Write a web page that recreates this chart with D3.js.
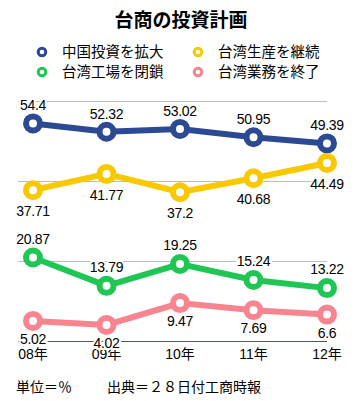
<!DOCTYPE html>
<html>
<head>
<meta charset="utf-8">
<script src="https://cdn.jsdelivr.net/npm/d3@7"></script>
<style>
  body { margin: 0; background: #fff; }
  text { font-family: "Liberation Sans", "Noto Sans CJK JP", sans-serif; }
  .jp { font-family: "Noto Sans CJK JP", sans-serif; }
</style>
</head>
<body>
<svg id="chart" width="363" height="401"></svg>
<script>
const years = ['08年', '09年', '10年', '11年', '12年'];
const seriesNames = ['中国投資を拡大', '台湾生産を継続', '台湾工場を閉鎖', '台湾業務を終了'];
const expandChina = [54.4, 52.32, 53.02, 50.95, 49.39];
const keepTaiwan = [37.71, 41.77, 37.2, 40.68, 44.49];
const closeFactory = [20.87, 13.79, 19.25, 15.24, 13.22];
const endBusiness = [5.02, 4.02, 9.47, 7.69, 6.6];
const gridTicks = [20, 40, 60];

const colors = ['#2b4a93', '#f8c800', '#1fc654', '#f7848f'];
// label above (-) or below (+) the point
const labelOffset = [-13, 26, -14, 23];

const svg = d3.select('#chart');

const x = d3.scalePoint().domain(years).range([33, 327]);
const y = d3.scaleLinear().domain([0, 60]).range([341, 101]);

// title
svg.append('text')
    .attr('class', 'jp')
    .attr('x', 181).attr('y', 27)
    .attr('text-anchor', 'middle')
    .style('font-size', '19px')
    .style('font-weight', 'bold')
    .text('台商の投資計画');

// legend
const legend = svg.append('g');
seriesNames.forEach((name, i) => {
    const lx = i % 2 === 0 ? 42 : 198;
    const ly = i < 2 ? 52 : 72;
    legend.append('circle')
        .attr('cx', lx).attr('cy', ly).attr('r', 3.8)
        .style('fill', '#fff')
        .style('stroke', colors[i])
        .style('stroke-width', 3);
    legend.append('text')
        .attr('class', 'jp')
        .attr('x', lx + 20).attr('y', ly + 5)
        .style('font-size', '14.5px')
        .text(name);
});

// grid lines
svg.append('g').selectAll('line')
    .data(gridTicks)
    .join('line')
    .attr('x1', 18).attr('x2', 327)
    .attr('y1', d => Math.round(y(d)) + 0.5)
    .attr('y2', d => Math.round(y(d)) + 0.5)
    .style('stroke', '#bdbdbd')
    .style('stroke-width', 1);

// baseline
svg.append('line')
    .attr('x1', 18).attr('x2', 327)
    .attr('y1', Math.round(y(0)) + 0.5).attr('y2', Math.round(y(0)) + 0.5)
    .style('stroke', '#4a5566')
    .style('stroke-width', 1);

// x labels
svg.append('g').selectAll('text')
    .data(years)
    .join('text')
    .attr('x', d => x(d))
    .attr('y', 359)
    .attr('text-anchor', 'middle')
    .style('font-size', '14px')
    .text(d => d);

const allSeries = [expandChina, keepTaiwan, closeFactory, endBusiness];
const line = d3.line()
    .x((d, i) => x(years[i]))
    .y(d => y(d));

allSeries.forEach((vals, s) => {
    const g = svg.append('g');
    g.append('path')
        .datum(vals)
        .attr('d', line)
        .style('fill', 'none')
        .style('stroke', colors[s])
        .style('stroke-width', 6);
    g.selectAll('circle')
        .data(vals)
        .join('circle')
        .attr('cx', (d, i) => x(years[i]))
        .attr('cy', d => y(d))
        .attr('r', 7)
        .style('fill', '#fff')
        .style('stroke', colors[s])
        .style('stroke-width', 6);
});

// value labels on top
allSeries.forEach((vals, s) => {
    svg.append('g').selectAll('text')
        .data(vals)
        .join('text')
        .attr('x', (d, i) => x(years[i]))
        .attr('y', d => y(d) + labelOffset[s])
        .attr('text-anchor', 'middle')
        .style('font-size', '14px')
        .style('letter-spacing', '-0.3px')
        .style('paint-order', 'stroke')
        .style('stroke', '#fff')
        .style('stroke-width', 4)
        .text(d => d);
});

// footer
svg.append('text')
    .attr('class', 'jp')
    .attr('x', 16).attr('y', 392)
    .style('font-size', '14px')
    .text('単位＝％');
svg.append('text')
    .attr('class', 'jp')
    .attr('x', 107).attr('y', 392)
    .style('font-size', '14px')
    .text('出典＝２８日付工商時報');
</script>
</body>
</html>
